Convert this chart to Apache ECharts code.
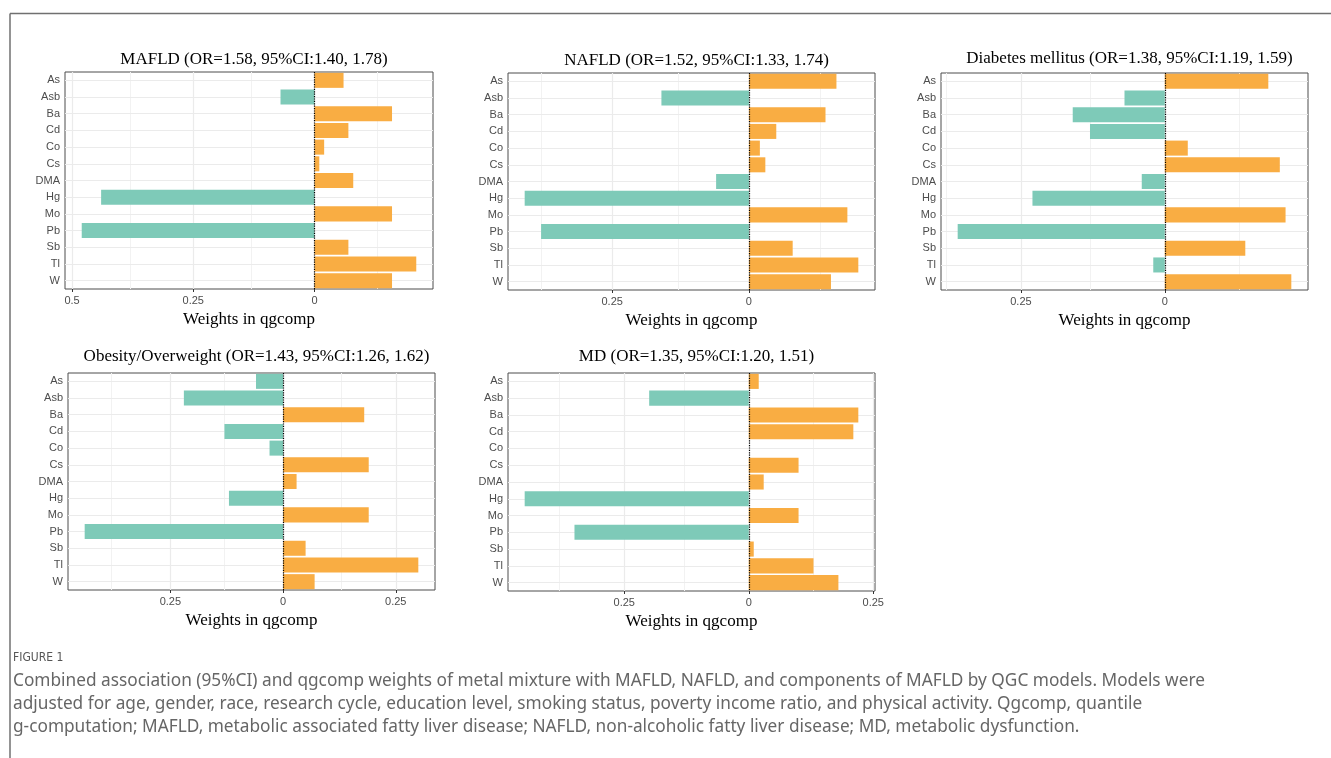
<!DOCTYPE html>
<html><head><meta charset="utf-8">
<script src="https://cdn.jsdelivr.net/npm/echarts@6/dist/echarts.min.js"></script>
<style>html,body{margin:0;padding:0;background:#fff;} #c{width:1331px;height:758px;}</style>
</head><body><div id="c"></div>
<script>
// ---------------- data ----------------
const categories = ['As','Asb','Ba','Cd','Co','Cs','DMA','Hg','Mo','Pb','Sb','Tl','W'];
const mafld    = [0.06, -0.07, 0.16, 0.07, 0.02, 0.01, 0.08, -0.44, 0.16, -0.48, 0.07, 0.21, 0.16];
const nafld    = [0.16, -0.16, 0.14, 0.05, 0.02, 0.03, -0.06, -0.41, 0.18, -0.38, 0.08, 0.20, 0.15];
const diabetes = [0.18, -0.07, -0.16, -0.13, 0.04, 0.20, -0.04, -0.23, 0.21, -0.36, 0.14, -0.02, 0.22];
const obesity  = [-0.06, -0.22, 0.18, -0.13, -0.03, 0.19, 0.03, -0.12, 0.19, -0.44, 0.05, 0.30, 0.07];
const md       = [0.02, -0.20, 0.22, 0.21, 0, 0.10, 0.03, -0.45, 0.10, -0.35, 0.01, 0.13, 0.18];
const panelTitles = [
  'MAFLD (OR=1.58, 95%CI:1.40, 1.78)',
  'NAFLD (OR=1.52, 95%CI:1.33, 1.74)',
  'Diabetes mellitus (OR=1.38, 95%CI:1.19, 1.59)',
  'Obesity/Overweight (OR=1.43, 95%CI:1.26, 1.62)',
  'MD (OR=1.35, 95%CI:1.20, 1.51)'
];
const majorTicks = [-0.5, -0.25, 0, 0.25];
const minorTicks = [-0.375, -0.125, 0.125, 0.375];
const xAxisTitle = 'Weights in qgcomp';
const captionHead = 'FIGURE 1';
const captionLines = [
  'Combined association (95%CI) and qgcomp weights of metal mixture with MAFLD, NAFLD, and components of MAFLD by QGC models. Models were',
  'adjusted for age, gender, race, research cycle, education level, smoking status, poverty income ratio, and physical activity. Qgcomp, quantile',
  'g-computation; MAFLD, metabolic associated fatty liver disease; NAFLD, non-alcoholic fatty liver disease; MD, metabolic dysfunction.'
];

// ---------------- layout / style ----------------
const seriesValues = [mafld, nafld, diabetes, obesity, md];
const layout = [
  {left:65,  top:72,  width:368, height:217, titleY:46},
  {left:508, top:73,  width:367, height:217, titleY:47},
  {left:941, top:73,  width:367, height:217, titleY:45},
  {left:68,  top:373, width:367, height:217, titleY:343},
  {left:508, top:373, width:367, height:218, titleY:343}
];
const TEAL = '#7ecab8', ORANGE = '#f9ad43';
const GRID_MAJOR = '#ebebeb', GRID_MINOR = '#f2f2f2';

const grid=[], xAxis=[], yAxis=[], series=[], title=[];
seriesValues.forEach((vals, i) => {
  const L = layout[i];
  const lo = Math.min(0, ...vals), hi = Math.max(0, ...vals);
  const pad = (hi - lo) * 0.05;
  const min = lo - pad, max = hi + pad;
  const inRange = v => v >= min && v <= max;
  const majors = majorTicks.filter(inRange);
  const minors = minorTicks.filter(inRange);
  grid.push({left:L.left, top:L.top, width:L.width, height:L.height, show:true,
    borderColor:'#4d4d4d', borderWidth:1, backgroundColor:'#fff'});
  title.push({text: panelTitles[i], left: L.left + L.width/2, top: L.titleY, textAlign:'center',
    textStyle:{fontFamily:'Liberation Serif', fontSize:17, fontWeight:'normal', color:'#000'}});
  xAxis.push({gridIndex:i, type:'value', min:min, max:max,
    name: xAxisTitle, nameLocation:'middle', nameGap:22,
    nameTextStyle:{fontFamily:'Liberation Serif', fontSize:17, color:'#000'},
    axisLine:{show:false}, splitLine:{show:false},
    axisTick:{show:true, length:3, customValues: majors, lineStyle:{color:'#333'}},
    axisLabel:{customValues: majors, formatter: v => String(Math.abs(v)),
      fontFamily:'Liberation Sans', fontSize:11, color:'#4d4d4d', margin:6}
  });
  yAxis.push({gridIndex:i, type:'category', data:categories, inverse:true,
    axisLine:{show:false}, splitLine:{show:false},
    axisTick:{show:true, alignWithLabel:true, length:3, lineStyle:{color:'#333'}},
    axisLabel:{interval:0, fontFamily:'Liberation Sans', fontSize:11, color:'#4d4d4d', margin:5}
  });
  const gridLines = [];
  minors.forEach(v => gridLines.push({xAxis:v, lineStyle:{color:GRID_MINOR, width:1, type:'solid'}}));
  majors.forEach(v => gridLines.push({xAxis:v, lineStyle:{color:GRID_MAJOR, width:1.2, type:'solid'}}));
  categories.forEach(c => gridLines.push({yAxis:c, lineStyle:{color:GRID_MAJOR, width:1.2, type:'solid'}}));
  series.push({type:'bar', xAxisIndex:i, yAxisIndex:i, data:vals, barCategoryGap:'10%', z:2,
    animation:false,
    itemStyle:{color: p => p.value < 0 ? TEAL : ORANGE},
    markLine:{silent:true, symbol:'none', z:1, animation:false, label:{show:false}, data:gridLines}
  });
  series.push({type:'line', xAxisIndex:i, yAxisIndex:i, data:[], animation:false,
    markLine:{silent:true, symbol:'none', z:10, animation:false, label:{show:false},
      lineStyle:{color:'#000', width:1.2, type:'dotted'}, data:[{xAxis:0}]}
  });
});

// caption: pick the font/size whose line widths best match the reference line lengths
const captionTargetWidths = [1300, 1060, 1020];
const fontCandidates = ['"Liberation Sans Narrow"', '"Liberation Sans"', 'Roboto', 'Lato', '"Open Sans"', '"Noto Sans"', '"DejaVu Sans"'];
const cv = document.createElement('canvas').getContext('2d');
let best = null;
fontCandidates.forEach(f => {
  cv.font = '100px ' + f + ', sans-serif';
  const w = captionLines.map(t => cv.measureText(t).width);
  let num = 0, den = 0;
  w.forEach((wi, k) => { num += wi * captionTargetWidths[k]; den += wi * wi; });
  const s = num / den;
  let err = 0;
  w.forEach((wi, k) => { err += Math.pow(s * wi - captionTargetWidths[k], 2); });
  const size = 100 * s;
  if (size >= 12 && size <= 18 && (!best || err < best.err)) best = {f, size, err};
});
if (!best) best = {f:'"Liberation Sans"', size:15};
const CAP_FONT = best.size.toFixed(2) + 'px ' + best.f + ', sans-serif';

const graphic = [
  {type:'line', shape:{x1:10, y1:13.5, x2:1331, y2:13.5}, style:{stroke:'#707070', lineWidth:1.5}, silent:true},
  {type:'line', shape:{x1:10, y1:13.5, x2:10, y2:758}, style:{stroke:'#707070', lineWidth:1.5}, silent:true},
  {type:'text', x:13, y:658, style:{text:captionHead, font:'12px "DejaVu Sans Condensed", "DejaVu Sans", sans-serif', fill:'#555', verticalAlign:'middle'}, silent:true}
];
captionLines.forEach((t, k) => {
  graphic.push({type:'text', x:13, y:681 + k*23,
    style:{text:t, font: CAP_FONT, fill:'#666', verticalAlign:'middle'}, silent:true});
});

const chart = echarts.init(document.getElementById('c'), null, {renderer:'canvas'});
chart.setOption({animation:false, backgroundColor:'#fff', title, grid, xAxis, yAxis, series, graphic});
</script>
</body></html>
